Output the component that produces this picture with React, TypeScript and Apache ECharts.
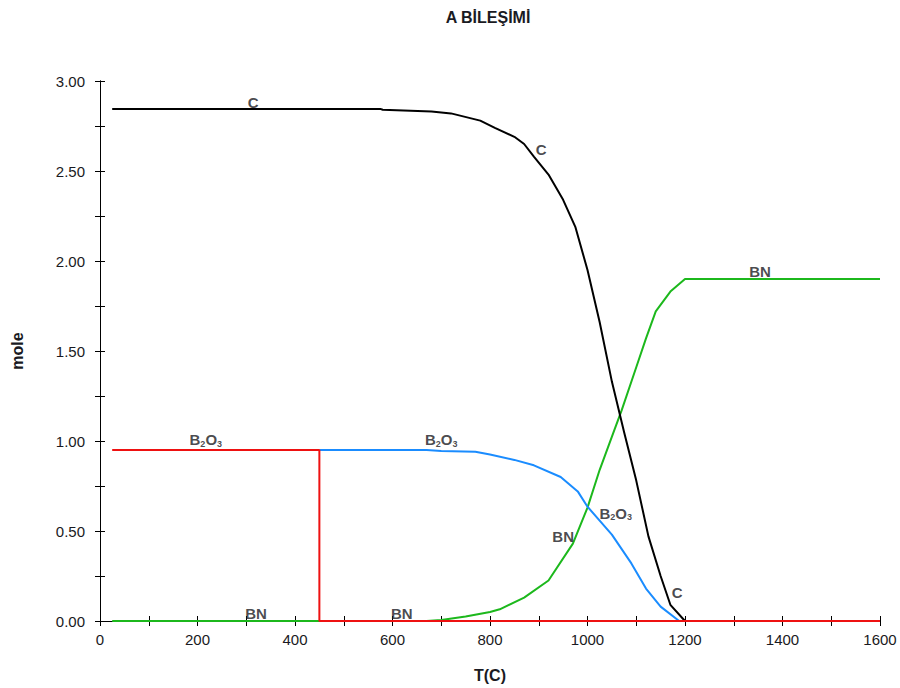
import React, { useEffect, useRef } from "react";
import * as echarts from "echarts";

const titleText = "A BİLEŞİMİ";
const xName = "T(C)";
const yName = "mole";

// [T(C), mole]
const cBlack: number[][] = [
  [25, 2.845], [575, 2.845], [580, 2.84], [680, 2.83], [720, 2.82], [780, 2.78], [810, 2.74],
  [850, 2.69], [870, 2.65], [890, 2.58], [920, 2.48], [950, 2.34], [975, 2.19], [1000, 1.95],
  [1025, 1.66], [1050, 1.33], [1075, 1.05], [1100, 0.78], [1125, 0.47], [1150, 0.25],
  [1170, 0.09], [1200, 0.0],
];
const b2o3Red: number[][] = [[25, 0.95], [450, 0.95], [450, 0], [1600, 0]];
const b2o3Blue: number[][] = [
  [450, 0.95], [670, 0.95], [700, 0.945], [770, 0.94], [800, 0.925], [850, 0.895],
  [890, 0.865], [945, 0.8], [980, 0.72], [1000, 0.635], [1050, 0.48], [1090, 0.32],
  [1120, 0.18], [1150, 0.08], [1188, 0.0],
];
const bnGreen: number[][] = [
  [25, 0], [670, 0], [700, 0.005], [750, 0.025], [800, 0.05], [820, 0.065], [870, 0.13],
  [920, 0.225], [970, 0.43], [1000, 0.63], [1025, 0.84], [1055, 1.06], [1070, 1.17],
  [1100, 1.41], [1120, 1.57], [1140, 1.72], [1170, 1.83], [1200, 1.9], [1600, 1.9],
];
// curve labels: [x, y, text]
const curveLabels: (number | string)[][] = [
  [314, 2.883, "C"],
  [905, 2.617, "C"],
  [1184, 0.161, "C"],
  [217, 1.006, "B{s|2}O{s|3}"],
  [700, 1.006, "B{s|2}O{s|3}"],
  [1058, 0.6, "B{s|2}O{s|3}"],
  [950, 0.467, "BN"],
  [1354, 1.944, "BN"],
  [320, 0.044, "BN"],
  [619, 0.044, "BN"],
];

const FONT = "'Liberation Sans', Arial, sans-serif";
const TXT = "#1a1a22";

export default function App() {
  const ref = useRef<HTMLDivElement>(null);
  useEffect(() => {
    if (!ref.current) return;
    const chart = echarts.init(ref.current, null, { renderer: "svg" });
    const tickCommon = { show: true, inside: true, length: 5, lineStyle: { color: "#000", width: 1 } };
    chart.setOption({
      animation: false,
      backgroundColor: "#fff",
      textStyle: { fontFamily: FONT },
      graphic: [
        {
          type: "text",
          x: 488,
          y: 17,
          style: {
            text: titleText,
            font: `bold 16px ${FONT}`,
            fill: TXT,
            textAlign: "center",
            textVerticalAlign: "middle",
          },
        },
      ],
      grid: { left: 100, right: 20, top: 81, bottom: 67, show: false },
      xAxis: [
        {
          type: "value",
          min: 0,
          max: 1600,
          interval: 100,
          name: xName,
          nameLocation: "middle",
          nameGap: 46,
          nameTextStyle: { fontFamily: FONT, fontWeight: "bold", fontSize: 16, color: TXT },
          axisLine: { show: true, onZero: false, lineStyle: { color: "#000", width: 1 } },
          axisTick: tickCommon,
          splitLine: { show: false },
          axisLabel: {
            fontFamily: FONT,
            fontSize: 15,
            color: TXT,
            margin: 11,
            formatter: (v: number) => (v % 200 === 0 ? String(v) : ""),
          },
        },
        {
          type: "value",
          position: "top",
          min: 0,
          max: 1600,
          interval: 100,
          axisLine: { show: true, lineStyle: { color: "#000", width: 1 } },
          axisTick: tickCommon,
          axisLabel: { show: false },
          splitLine: { show: false },
        },
      ],
      yAxis: [
        {
          type: "value",
          min: 0,
          max: 3,
          interval: 0.25,
          name: yName,
          nameLocation: "middle",
          nameGap: 75,
          nameRotate: 90,
          nameTextStyle: { fontFamily: FONT, fontWeight: "bold", fontSize: 16, color: TXT },
          axisLine: { show: true, onZero: false, lineStyle: { color: "#000", width: 1 } },
          axisTick: tickCommon,
          splitLine: { show: false },
          axisLabel: {
            fontFamily: FONT,
            fontSize: 15,
            color: TXT,
            margin: 15,
            formatter: (v: number) => (Math.abs(v * 2 - Math.round(v * 2)) < 1e-6 ? v.toFixed(2) : ""),
          },
        },
        {
          type: "value",
          position: "right",
          min: 0,
          max: 3,
          interval: 0.25,
          axisLine: { show: true, lineStyle: { color: "#000", width: 1 } },
          axisTick: tickCommon,
          axisLabel: { show: false },
          splitLine: { show: false },
        },
      ],
      series: [
        {
          name: "BN",
          type: "line",
          data: bnGreen,
          showSymbol: false,
          lineStyle: { color: "#1cb81c", width: 2 },
          z: 2,
        },
        {
          name: "B2O3 (liquid)",
          type: "line",
          data: b2o3Blue,
          showSymbol: false,
          lineStyle: { color: "#1a8cff", width: 2 },
          z: 3,
        },
        {
          name: "C",
          type: "line",
          data: cBlack,
          showSymbol: false,
          lineStyle: { color: "#000", width: 2 },
          z: 4,
        },
        {
          name: "B2O3",
          type: "line",
          data: b2o3Red,
          showSymbol: false,
          lineStyle: { color: "#ee1111", width: 2 },
          z: 5,
        },
        {
          name: "labels",
          type: "scatter",
          data: curveLabels,
          symbolSize: 1,
          itemStyle: { color: "rgba(0,0,0,0)" },
          z: 10,
          silent: true,
          label: {
            show: true,
            position: "inside",
            formatter: (p: any) => String(p.data[2]),
            fontFamily: FONT,
            fontWeight: "bold",
            fontSize: 15,
            color: TXT,
            rich: {
              s: {
                fontFamily: FONT,
                fontWeight: "bold",
                fontSize: 9,
                color: TXT,
                verticalAlign: "bottom",
                padding: [8, 0, 0, 0],
              },
            },
          },
        },
      ],
    });
    return () => chart.dispose();
  }, []);
  return (
    <div
      ref={ref}
      style={{ width: 900, height: 688, position: "fixed", left: 0, top: 0, background: "#fff" }}
    />
  );
}
